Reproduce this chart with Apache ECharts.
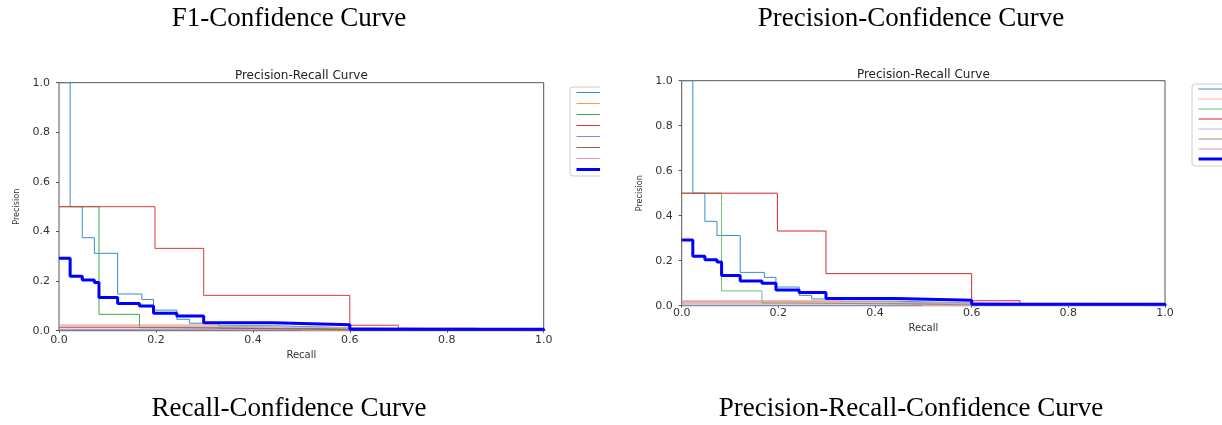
<!DOCTYPE html>
<html><head><meta charset="utf-8">
<script src="https://cdn.jsdelivr.net/npm/echarts/dist/echarts.min.js"></script>
<style>
html,body{margin:0;padding:0;background:#fff;}
#wrap{position:relative;width:1222px;height:425px;overflow:hidden;background:#fff;}
#left{position:absolute;left:0;top:0;width:600px;height:425px;}
#right{position:absolute;left:611px;top:0;width:611px;height:425px;}
</style></head><body>
<div id="wrap"><div id="left"></div><div id="right"></div></div>
<script>
// ---- data (recall, precision) change points ----
const classNames = ['class 0', 'class 1', 'class 2', 'class 3', 'class 4', 'class 5', 'class 6', 'all classes'];
const class0PR = [[0,1.0],[0.023,0.5],[0.048,0.375],[0.073,0.312],[0.121,0.148],[0.171,0.126],[0.195,0.083],[0.243,0.046],[0.269,0.03],[0.33,0.02],[0.44,0.012],[0.6,0.004],[1.0,0]];
const class1PR = [[0,0.023],[0.33,0.01],[0.5,0],[1.0,0]];
const class2PR = [[0,0.5],[0.0825,0.066],[0.166,0.012],[0.33,0.008],[0.583,0],[1.0,0]];
const class3PR = [[0,0.5],[0.198,0.332],[0.2985,0.1425],[0.6,0.022],[0.7,0.01],[0.85,0.003],[1.0,0]];
const class4PR = [[0,0.004],[0.25,0.002],[1.0,0]];
const class5PR = [[0,0.012],[0.222,0.008],[0.44,0.004],[0.6,0],[1.0,0]];
const class6PR = [[0,0.018],[0.33,0.01],[0.7,0.005],[1.0,0]];
const allPR = [[0,0.292],[0.023,0.22],[0.048,0.204],[0.073,0.194],[0.0825,0.134],[0.121,0.11],[0.166,0.1],[0.195,0.07],[0.243,0.059],[0.2985,0.032],[0.442,0.024],[0.6,0.006],[1.0,0]];
const seriesData = [class0PR, class1PR, class2PR, class3PR, class4PR, class5PR, class6PR, allPR];
const tickLabels = ['0.0', '0.2', '0.4', '0.6', '0.8', '1.0'];
const panelTitles = ['F1-Confidence Curve', 'Precision-Confidence Curve'];
const panelCaptions = ['Recall-Confidence Curve', 'Precision-Recall-Confidence Curve'];
const innerTitle = 'Precision-Recall Curve';
const xName = 'Recall';
const yName = 'Precision';

// ---- styles ----
const colorsA = ['#3d8ccc', '#ff9a4d', '#3fae3f', '#dc3a3a', '#a07fcf', '#955f55', '#ec8fd0', '#0000ff'];
const colorsB = ['#3d8ccc', '#ffb787', '#6cc16c', '#d62728', '#c2aee0', '#a98580', '#e98bcb', '#0000ff'];

function tickFmt(v) { const i = Math.round(v / 0.2); return tickLabels[i] !== undefined ? tickLabels[i] : ''; }

function makeOption(g) {
  const tickFont = {color: '#333', fontSize: 11, fontFamily: 'DejaVu Sans'};
  return {
    animation: false,
    backgroundColor: '#fff',
    grid: {left: g.left, top: g.top, width: g.width, height: g.height, show: true, borderColor: '#555', borderWidth: 1, backgroundColor: 'transparent', containLabel: false, outerBoundsMode: 'none'},
    legend: {
      orient: 'vertical', left: g.legLeft, top: g.legTop, padding: g.legPad,
      itemWidth: 40, itemHeight: g.legItemH, itemGap: g.legGap,
      backgroundColor: '#fff', borderColor: '#cccccc', borderWidth: 1, borderRadius: 3,
      itemStyle: {opacity: 0},
      lineStyle: {width: 'inherit'},
      textStyle: {fontSize: 6, lineHeight: g.legItemH, color: '#333', fontFamily: 'DejaVu Sans'},
      data: classNames,
      selectedMode: false
    },
    xAxis: {
      type: 'value', min: 0, max: 1, interval: 0.2,
      name: xName, nameLocation: 'middle', nameGap: g.xNameGap,
      nameTextStyle: {color: '#333', fontSize: 10, fontFamily: 'DejaVu Sans'},
      axisLine: {show: false}, splitLine: {show: false},
      axisTick: {show: true, length: 2, lineStyle: {color: '#555'}},
      axisLabel: Object.assign({margin: g.xMargin, formatter: tickFmt, showMinLabel: true, showMaxLabel: true}, tickFont)
    },
    yAxis: {
      type: 'value', min: 0, max: 1, interval: 0.2,
      name: yName, nameLocation: 'middle', nameGap: 37, nameRotate: 90,
      nameTextStyle: {color: '#333', fontSize: 9, fontFamily: 'DejaVu Sans Condensed, DejaVu Sans'},
      axisLine: {show: false}, splitLine: {show: false},
      axisTick: {show: true, length: 3, lineStyle: {color: '#555'}},
      axisLabel: Object.assign({margin: 9, formatter: tickFmt, showMinLabel: true, showMaxLabel: true}, tickFont)
    },
    graphic: [
      {type: 'text', x: g.titleX, y: 19, silent: true, style: {text: g.title, font: '27px "Liberation Serif"', fill: '#000', align: 'center', verticalAlign: 'middle'}},
      {type: 'text', x: g.titleX, y: 409, silent: true, style: {text: g.caption, font: '27px "Liberation Serif"', fill: '#000', align: 'center', verticalAlign: 'middle'}},
      {type: 'text', x: g.left + g.width / 2, y: g.innerY, silent: true, style: {text: innerTitle, font: '12px "DejaVu Sans"', fill: '#222', align: 'center', verticalAlign: 'middle'}}
    ],
    series: seriesData.map((d, i) => ({
      name: classNames[i], type: 'line', step: 'end', data: d, symbol: 'none',
      lineStyle: {width: i === 7 ? 3 : 1, color: g.colors[i]},
      itemStyle: {color: g.colors[i]},
      z: i === 7 ? 5 : (i === 3 ? 4 : 3), clip: true
    }))
  };
}

const left = echarts.init(document.getElementById('left'), null, {renderer: 'canvas'});
left.setOption(makeOption({
  left: 59, top: 82.7, width: 484.7, height: 248,
  legLeft: 570, legTop: 87, legPad: [2, 5, 3, 5], legItemH: 7, legGap: 4,
  xNameGap: 14, xMargin: 4, innerY: 76,
  titleX: 289, title: panelTitles[0], caption: panelCaptions[0], colors: colorsA
}));
const right = echarts.init(document.getElementById('right'), null, {renderer: 'canvas'});
right.setOption(makeOption({
  left: 70.7, top: 80.7, width: 483.3, height: 225,
  legLeft: 581, legTop: 84, legPad: [2, 5, 4, 5], legItemH: 6, legGap: 4,
  xNameGap: 11, xMargin: 2, innerY: 74.5,
  titleX: 300, title: panelTitles[1], caption: panelCaptions[1], colors: colorsB
}));
</script>
</body></html>
